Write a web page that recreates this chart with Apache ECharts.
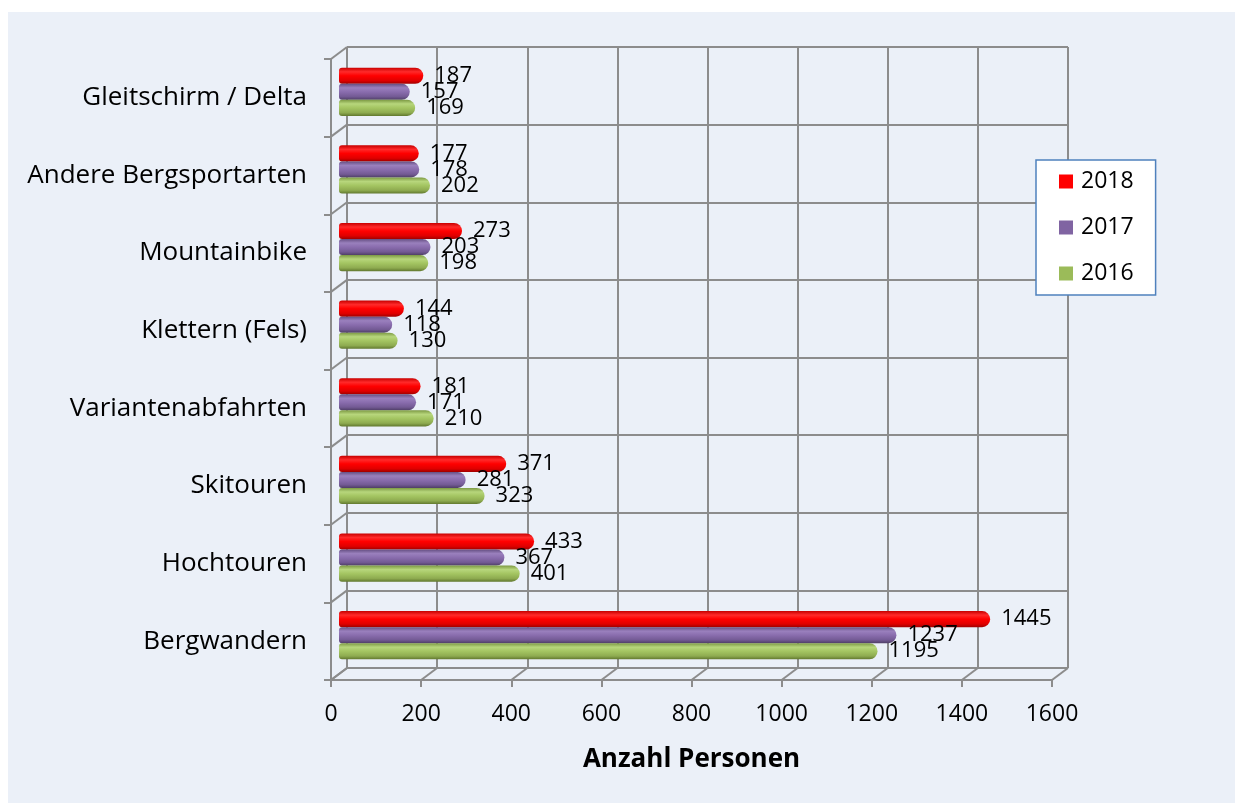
<!DOCTYPE html>
<html><head><meta charset="utf-8">
<script src="https://cdn.jsdelivr.net/npm/echarts@6/dist/echarts.min.js"></script>
<style>html,body{margin:0;padding:0;background:#fff}#c{width:1235px;height:803px}</style>
</head><body><div id="c"></div>
<script>
const categories = ['Bergwandern','Hochtouren','Skitouren','Variantenabfahrten','Klettern (Fels)','Mountainbike','Andere Bergsportarten','Gleitschirm / Delta'];
const values2016 = [1195, 401, 323, 210, 130, 198, 202, 169];
const values2017 = [1237, 367, 281, 171, 118, 203, 178, 157];
const values2018 = [1445, 433, 371, 181, 144, 273, 177, 187];
const seriesNames = ['2018', '2017', '2016'];
const legendOrder = ['2018', '2017', '2016'];
const xMin = 0, xMax = 1600, xStep = 200;

const FONT = '"Open Sans", "Noto Sans", sans-serif';
const GRID_COLOR = '#8c8c8c';
const palette = {
  '2018': { base: '#ff0000', stops: ['#c80000', '#ff2a2a', '#ff0000', '#e00000', '#a00000'] },
  '2017': { base: '#8064a2', stops: ['#654f82', '#9a80bd', '#8a6dae', '#735a94', '#4f3e66'] },
  '2016': { base: '#9bbb59', stops: ['#7d9a44', '#b7d67c', '#a4c562', '#8eab50', '#62792f'] }
};
function grad(name) {
  const s = palette[name].stops;
  return new echarts.graphic.LinearGradient(0, 0, 0, 1, [
    { offset: 0, color: s[0] }, { offset: 0.25, color: s[1] }, { offset: 0.5, color: s[2] },
    { offset: 0.8, color: s[3] }, { offset: 1, color: s[4] }
  ]);
}
const dataByName = { '2016': values2016, '2017': values2017, '2018': values2018 };

// three depth planes: back wall, bar plane, front plane
const back = { left: 347, right: 167, top: 47, bottom: 135 };
const mid = { left: 339, right: 175, top: 53, bottom: 129 };
const front = { left: 331, right: 183, top: 59, bottom: 123 };

const chart = echarts.init(document.getElementById('c'), null, { renderer: 'canvas' });
const hidden = { axisLine: { show: false }, axisTick: { show: false }, axisLabel: { show: false }, splitLine: { show: false } };
const option = {
  backgroundColor: '#ffffff',
  animation: false,
  textStyle: { fontFamily: FONT },
  grid: [back, mid, front].map(g => Object.assign({ containLabel: false }, g)),
  legend: {
    orient: 'vertical', left: 1036, top: 160,
    backgroundColor: '#ffffff', borderColor: '#4f81bd', borderWidth: 1.5,
    padding: [10, 22, 10, 23], itemGap: 23, itemWidth: 14, itemHeight: 14,
    textStyle: { fontSize: 23, color: '#000', fontFamily: FONT, padding: [0, 0, 0, 3] },
    data: legendOrder.map(n => ({ name: n, icon: 'rect', itemStyle: { color: palette[n].base } }))
  },
  xAxis: [
    Object.assign({ gridIndex: 0, type: 'value', min: xMin, max: xMax, interval: xStep }, hidden,
      { splitLine: { show: true, lineStyle: { color: GRID_COLOR, width: 2 } } }),
    Object.assign({ gridIndex: 1, type: 'value', min: xMin, max: xMax, interval: xStep }, hidden),
    {
      gridIndex: 2, type: 'value', min: xMin, max: xMax, interval: xStep,
      axisLine: { show: true, lineStyle: { color: GRID_COLOR, width: 2 } },
      axisTick: { show: true, length: 7, lineStyle: { color: GRID_COLOR, width: 2 } },
      axisLabel: { fontSize: 23, color: '#000', margin: 23, fontFamily: FONT, formatter: v => String(v) },
      splitLine: { show: false },
      name: 'Anzahl Personen', nameLocation: 'middle', nameGap: 67,
      nameTextStyle: { fontSize: 26, fontWeight: 'bold', color: '#000', fontFamily: FONT }
    }
  ],
  yAxis: [
    Object.assign({ gridIndex: 0, type: 'category', data: categories }, hidden,
      { splitLine: { show: true, lineStyle: { color: GRID_COLOR, width: 2 } } }),
    Object.assign({ gridIndex: 1, type: 'category', data: categories }, hidden),
    {
      gridIndex: 2, type: 'category', data: categories,
      axisLine: { show: true, lineStyle: { color: GRID_COLOR, width: 2 } },
      axisTick: { show: true, length: 7, lineStyle: { color: GRID_COLOR, width: 2 } },
      axisLabel: { fontSize: 26, color: '#000', margin: 24, fontFamily: FONT },
      splitLine: { show: false }
    }
  ],
  series: seriesNames.map(n => ({
    name: n, type: 'bar', xAxisIndex: 1, yAxisIndex: 1,
    data: dataByName[n],
    barGap: '0%', barCategoryGap: '38%',
    itemStyle: { color: grad(n), borderRadius: [3, 8, 8, 3] },
    label: { show: true, position: 'right', distance: 11, fontSize: 22, color: '#000', fontFamily: FONT },
    z: 3
  }))
};
chart.setOption(option);

// decorative 3D frame: panel background and depth diagonals
function buildFrame() {
  const W = chart.getWidth(), H = chart.getHeight();
  const els = [{
    type: 'rect', z: -100, silent: true,
    shape: { x: 8, y: 12, width: W - 8, height: H - 12 },
    style: { fill: '#ebf0f8' }
  }];
  const lineStyle = { stroke: GRID_COLOR, lineWidth: 2 };
  const fBottom = H - front.bottom, bBottom = H - back.bottom;
  for (let v = xMin; v <= xMax; v += xStep) {
    const xf = chart.convertToPixel({ xAxisIndex: 2 }, v);
    const xb = chart.convertToPixel({ xAxisIndex: 0 }, v);
    els.push({ type: 'line', z: 1, silent: true, shape: { x1: xf, y1: fBottom, x2: xb, y2: bBottom }, style: lineStyle });
  }
  const n = categories.length;
  const fTop = front.top, bTop = back.top;
  const fStep = (fBottom - fTop) / n, bStep = (bBottom - bTop) / n;
  const xf0 = chart.convertToPixel({ xAxisIndex: 2 }, xMin);
  const xb0 = chart.convertToPixel({ xAxisIndex: 0 }, xMin);
  for (let i = 0; i <= n; i++) {
    els.push({ type: 'line', z: 1, silent: true,
      shape: { x1: xf0, y1: fTop + i * fStep, x2: xb0, y2: bTop + i * bStep }, style: lineStyle });
  }
  chart.setOption({ graphic: { elements: els } });
}
buildFrame();
</script></body></html>
